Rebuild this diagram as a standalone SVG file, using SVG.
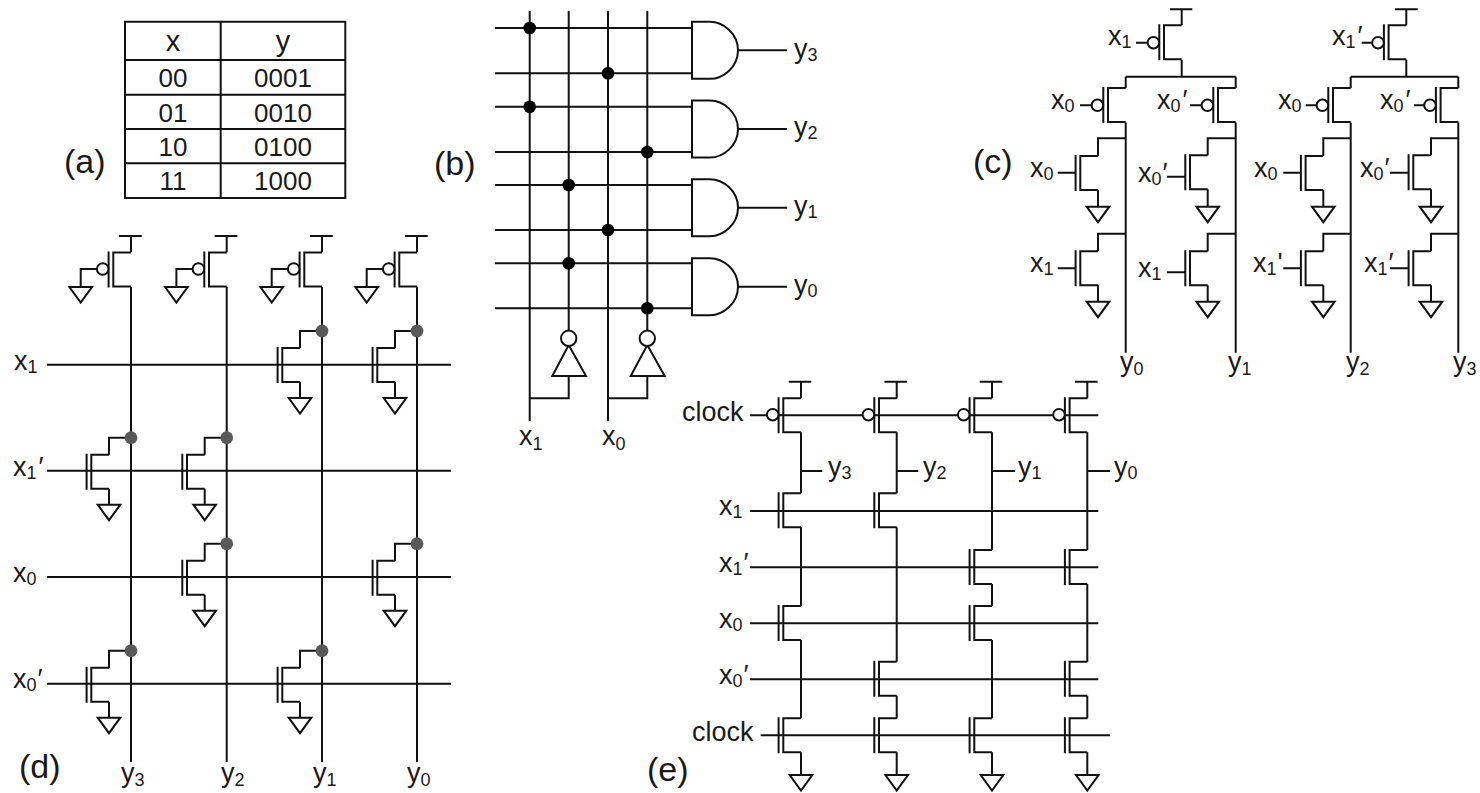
<svg xmlns="http://www.w3.org/2000/svg" width="1480" height="793" viewBox="0 0 1480 793">
<style>
text{font-family:"Liberation Sans",Arial,sans-serif;fill:#1a1a1a;font-size:27px}
.s{font-size:18px}
.p{font-size:34px}
.t{font-size:26px;text-anchor:middle}
.h{font-size:29px;text-anchor:middle}
.w,.f{fill:none;stroke:#111;stroke-width:2}
.b{fill:#fff;stroke:#111;stroke-width:2}
.dk{fill:#000}
.dg{fill:#595959}
</style>
<defs>
<g id="fet"><path class="f" d="M0,0H-17.7V34H0M-22.4,-1V35"/></g>
<circle id="bub" class="b" r="5.8"/>
<path id="gnd" class="b" d="M-11.3,0H11.3L0,15.5Z"/>
<path id="and" class="b" d="M0,-28.5H18C31,-28.5 46,-17 46,0C46,17 31,28.5 18,28.5H0Z"/>
</defs>

<g id="connectors">
<!-- panel a grid -->
<path class="w" d="M125,21.7H345.3V198H125ZM125,60H345.3M125,94.7H345.3M125,129H345.3M125,163.3H345.3M220.7,21.7V198"/>
<!-- panel b -->
<path class="w" d="M529.7,11V421M568.7,11V331M608,11V421M647.3,11V331M495,28H692M495,73.3H692M495,106.7H692M495,152H692M495,185H692M495,230H692M495,263.3H692M495,308.3H692M738,50.3H787M738,129H787M738,207.7H787M738,286.7H787M529.7,398.3H568.7V376M608,398.3H647.3V376"/>
<!-- panel c -->
<path class="w" d="M1170,9.3H1192.3M1181.7,9.3V25.3M1181.7,59.8V76.7M1125.7,76.7H1235.7M1125.7,76.7V88M1235.7,76.7V88M1125.7,122.5V352.7M1235.7,122.5V352.7M1136,42.7H1148M1080,105.3H1092M1190,105.3H1202M1125.7,138.3H1098V156M1098,190V206.7M1125.7,233.7H1098V251.3M1098,285.3V301.7M1235.7,138.3H1207.7V155.3M1207.7,189.3V206.7M1235.7,233.7H1207.7V251.3M1207.7,285.3V301.7M1057.7,172.7H1075M1167,176.7H1185M1057.7,268.3H1075M1167,272.3H1185"/>
<path class="w" d="M1395,9.3H1417.7M1406.3,9.3V25.3M1406.3,59.8V76.7M1350.7,76.7H1458.3M1350.7,76.7V88M1458.3,76.7V88M1350.7,122.5V352.7M1458.3,122.5V352.7M1361.7,42.7H1374M1305.7,105.3H1318M1414,105.3H1425M1350.7,138.3H1323.3V156M1323.3,190V206.7M1350.7,233.7H1323.3V251.3M1323.3,285.3V301.7M1458.3,138.3H1431V155.3M1431,189.3V206.7M1458.3,233.7H1431V251.3M1431,285.3V301.7M1283.3,172.7H1301M1390,172.7H1408.3M1283.3,268.3H1301M1390,268.3H1408.3"/>
<!-- panel d -->
<path class="w" d="M47,364.7H451M47,470.7H451M47,577H451M47,683.7H451M131,286.8V762M226.7,286.8V762M322,286.8V762M417,286.8V762"/>
<path class="w" d="M119,236H141.7M131,236V252.3M214.7,236H237.4M226.7,236V252.3M310,236H332.7M322,236V252.3M405,236H427.7M417,236V252.3"/>
<path class="w" d="M97,269H80.7V287M192.7,269H176.4V287M288,269H271.7V287M383,269H366.7V287"/>
<path class="w" d="M322,331H300V348M300,382V398M417,331H395V348M395,382V398M131,437.7H109V454.7M109,488.7V504.7M226.7,437.7H204.7V454.7M204.7,488.7V504.7M226.7,543.7H204.7V560.7M204.7,594.7V610.7M417,543.7H395V560.7M395,594.7V610.7M131,650.7H109V667.7M109,701.7V717.7M322,650.7H300V667.7M300,701.7V717.7"/>
<!-- panel e -->
<path class="w" d="M750,415.3H1098.3M750,511H1098.3M750,567.3H1098.3M750,623.3H1098.3M750,679.3H1098.3M760.7,735.3H1110"/>
<path class="w" d="M788.7,381.7H811.3M801,381.7V398.3M884.4,381.7H907M896.7,381.7V398.3M979.7,381.7H1002.3M992,381.7V398.3M1075,381.7H1097.6M1087.3,381.7V398.3"/>
<path class="w" d="M801,432.3V493.3M801,527.3V606M801,640V718.3M801,752.3V775"/>
<path class="w" d="M896.7,432.3V493.3M896.7,527.3V661.7M896.7,695.7V718.3M896.7,752.3V775"/>
<path class="w" d="M992,432.3V550M992,584V606M992,640V718.3M992,752.3V775"/>
<path class="w" d="M1087.3,432.3V550M1087.3,584V661.7M1087.3,695.7V718.3M1087.3,752.3V775"/>
<path class="w" d="M801,471H822.3M896.7,471H918.3M992,471H1015M1087.3,471H1110"/>
</g>

<g id="table-a">
<text class="h" x="173" y="50.7">x</text><text class="h" x="283" y="50.7">y</text>
<text class="t" x="173" y="87">00</text><text class="t" x="283" y="87">0001</text>
<text class="t" x="173" y="121.7">01</text><text class="t" x="283" y="121.7">0010</text>
<text class="t" x="173" y="156">10</text><text class="t" x="283" y="156">0100</text>
<text class="t" x="173" y="190">11</text><text class="t" x="283" y="190">1000</text>
</g>

<g id="panel-labels">
<text class="p" x="64" y="173">(a)</text>
<text class="p" x="434" y="175">(b)</text>
<text class="p" x="973" y="173">(c)</text>
<text class="p" x="19" y="778">(d)</text>
<text class="p" x="647" y="781">(e)</text>
</g>

<g id="b-gates">
<use id="and-y3" href="#and" x="692" y="50.3"/>
<use id="and-y2" href="#and" x="692" y="129"/>
<use id="and-y1" href="#and" x="692" y="207.7"/>
<use id="and-y0" href="#and" x="692" y="286.7"/>
</g>
<g id="b-inv1"><path class="b" d="M552.3,376H586L568.7,345Z"/><circle class="b" cx="568.7" cy="338.3" r="7.7"/></g>
<g id="b-inv0"><path class="b" d="M630.7,376H664.7L647.3,345Z"/><circle class="b" cx="647.3" cy="338.3" r="7.7"/></g>
<g id="b-dots" class="dk">
<circle cx="529.7" cy="28" r="6.3"/><circle cx="608" cy="73.3" r="6.3"/><circle cx="529.7" cy="106.7" r="6.3"/><circle cx="647.3" cy="152" r="6.3"/><circle cx="568.7" cy="185" r="6.3"/><circle cx="608" cy="230" r="6.3"/><circle cx="568.7" cy="263.3" r="6.3"/><circle cx="647.3" cy="308.3" r="6.3"/>
</g>
<g id="b-labels">
<text x="794" y="58">y<tspan class="s" dy="3">3</tspan></text>
<text x="794" y="136">y<tspan class="s" dy="3">2</tspan></text>
<text x="794" y="215">y<tspan class="s" dy="3">1</tspan></text>
<text x="794" y="294">y<tspan class="s" dy="3">0</tspan></text>
<text x="519" y="445">x<tspan class="s" dy="5">1</tspan></text>
<text x="602" y="445">x<tspan class="s" dy="5">0</tspan></text>
</g>

<g id="c-y0-y1">
<g id="c-p1"><use href="#fet" x="1181.7" y="25.3"/><use href="#bub" x="1153.4" y="42.7"/></g>
<g id="c-p2"><use href="#fet" x="1125.7" y="88"/><use href="#bub" x="1097.4" y="105.3"/></g>
<g id="c-p3"><use href="#fet" x="1235.7" y="88"/><use href="#bub" x="1207.4" y="105.3"/></g>
<g id="c-n1"><use href="#fet" x="1098" y="156"/><use href="#gnd" x="1098" y="206.7"/></g>
<g id="c-n2"><use href="#fet" x="1207.7" y="155.3"/><use href="#gnd" x="1207.7" y="206.7"/></g>
<g id="c-n3"><use href="#fet" x="1098" y="251.3"/><use href="#gnd" x="1098" y="301.7"/></g>
<g id="c-n4"><use href="#fet" x="1207.7" y="251.3"/><use href="#gnd" x="1207.7" y="301.7"/></g>
</g>
<g id="c-y2-y3">
<g id="c-p4"><use href="#fet" x="1406.3" y="25.3"/><use href="#bub" x="1378" y="42.7"/></g>
<g id="c-p5"><use href="#fet" x="1350.7" y="88"/><use href="#bub" x="1322.4" y="105.3"/></g>
<g id="c-p6"><use href="#fet" x="1458.3" y="88"/><use href="#bub" x="1430" y="105.3"/></g>
<g id="c-n5"><use href="#fet" x="1323.3" y="156"/><use href="#gnd" x="1323.3" y="206.7"/></g>
<g id="c-n6"><use href="#fet" x="1431" y="155.3"/><use href="#gnd" x="1431" y="206.7"/></g>
<g id="c-n7"><use href="#fet" x="1323.3" y="251.3"/><use href="#gnd" x="1323.3" y="301.7"/></g>
<g id="c-n8"><use href="#fet" x="1431" y="251.3"/><use href="#gnd" x="1431" y="301.7"/></g>
</g>
<g id="c-labels">
<text x="1108" y="45">x<tspan class="s" dy="3">1</tspan></text>
<text x="1051" y="109">x<tspan class="s" dy="3">0</tspan></text>
<text x="1157" y="109">x<tspan class="s" dy="3">0</tspan><tspan dy="-3" dx="2">′</tspan></text>
<text x="1030" y="177">x<tspan class="s" dy="3">0</tspan></text>
<text x="1138" y="182">x<tspan class="s" dy="3">0</tspan><tspan dy="-3" dx="1">′</tspan></text>
<text x="1030" y="272">x<tspan class="s" dy="3">1</tspan></text>
<text x="1138" y="277">x<tspan class="s" dy="3">1</tspan></text>
<text x="1120" y="371">y<tspan class="s" dy="4">0</tspan></text>
<text x="1228" y="371">y<tspan class="s" dy="4">1</tspan></text>
<text x="1332" y="45">x<tspan class="s" dy="3">1</tspan><tspan dy="-3" dx="2">′</tspan></text>
<text x="1278" y="109">x<tspan class="s" dy="3">0</tspan></text>
<text x="1380" y="109">x<tspan class="s" dy="3">0</tspan><tspan dy="-3" dx="2">′</tspan></text>
<text x="1254" y="177">x<tspan class="s" dy="3">0</tspan></text>
<text x="1360" y="177">x<tspan class="s" dy="3">0</tspan><tspan dy="-3" dx="1">′</tspan></text>
<text x="1253" y="272">x<tspan class="s" dy="3">1</tspan><tspan dy="-3" dx="1">'</tspan></text>
<text x="1364" y="272">x<tspan class="s" dy="3">1</tspan><tspan dy="-3" dx="1">′</tspan></text>
<text x="1346" y="371">y<tspan class="s" dy="4">2</tspan></text>
<text x="1453" y="371">y<tspan class="s" dy="4">3</tspan></text>
</g>

<g id="d-pull-ups">
<g id="d-p3"><use href="#fet" x="131" y="252.6"/><use href="#bub" x="102.7" y="269"/><use href="#gnd" x="80.7" y="287"/></g>
<g id="d-p2"><use href="#fet" x="226.7" y="252.6"/><use href="#bub" x="198.4" y="269"/><use href="#gnd" x="176.4" y="287"/></g>
<g id="d-p1"><use href="#fet" x="322" y="252.6"/><use href="#bub" x="293.7" y="269"/><use href="#gnd" x="271.7" y="287"/></g>
<g id="d-p0"><use href="#fet" x="417" y="252.6"/><use href="#bub" x="388.7" y="269"/><use href="#gnd" x="366.7" y="287"/></g>
</g>
<g id="d-pull-downs">
<g id="d-n1"><use href="#fet" x="300" y="348"/><use href="#gnd" x="300" y="398"/><circle class="dg" cx="322" cy="331" r="6.4"/></g>
<g id="d-n2"><use href="#fet" x="395" y="348"/><use href="#gnd" x="395" y="398"/><circle class="dg" cx="417" cy="331" r="6.4"/></g>
<g id="d-n3"><use href="#fet" x="109" y="454.7"/><use href="#gnd" x="109" y="504.7"/><circle class="dg" cx="131" cy="437.7" r="6.4"/></g>
<g id="d-n4"><use href="#fet" x="204.7" y="454.7"/><use href="#gnd" x="204.7" y="504.7"/><circle class="dg" cx="226.7" cy="437.7" r="6.4"/></g>
<g id="d-n5"><use href="#fet" x="204.7" y="560.7"/><use href="#gnd" x="204.7" y="610.7"/><circle class="dg" cx="226.7" cy="543.7" r="6.4"/></g>
<g id="d-n6"><use href="#fet" x="395" y="560.7"/><use href="#gnd" x="395" y="610.7"/><circle class="dg" cx="417" cy="543.7" r="6.4"/></g>
<g id="d-n7"><use href="#fet" x="109" y="667.7"/><use href="#gnd" x="109" y="717.7"/><circle class="dg" cx="131" cy="650.7" r="6.4"/></g>
<g id="d-n8"><use href="#fet" x="300" y="667.7"/><use href="#gnd" x="300" y="717.7"/><circle class="dg" cx="322" cy="650.7" r="6.4"/></g>
</g>
<g id="d-labels">
<text x="14" y="370">x<tspan class="s" dy="3">1</tspan></text>
<text x="13" y="476">x<tspan class="s" dy="3">1</tspan><tspan dy="-3" dx="2">′</tspan></text>
<text x="13" y="582">x<tspan class="s" dy="3">0</tspan></text>
<text x="13" y="688">x<tspan class="s" dy="3">0</tspan><tspan dy="-3" dx="1">′</tspan></text>
<text x="121" y="782">y<tspan class="s" dy="4">3</tspan></text>
<text x="221" y="782">y<tspan class="s" dy="4">2</tspan></text>
<text x="313" y="782">y<tspan class="s" dy="4">1</tspan></text>
<text x="407" y="782">y<tspan class="s" dy="4">0</tspan></text>
</g>

<g id="e-col3">
<use href="#fet" x="801" y="398.3"/><use href="#bub" x="772.7" y="414.7"/>
<use href="#fet" x="801" y="493.3"/><use href="#fet" x="801" y="606"/><use href="#fet" x="801" y="718.3"/><use href="#gnd" x="801" y="775"/>
</g>
<g id="e-col2">
<use href="#fet" x="896.7" y="398.3"/><use href="#bub" x="868.4" y="414.7"/>
<use href="#fet" x="896.7" y="493.3"/><use href="#fet" x="896.7" y="661.7"/><use href="#fet" x="896.7" y="718.3"/><use href="#gnd" x="896.7" y="775"/>
</g>
<g id="e-col1">
<use href="#fet" x="992" y="398.3"/><use href="#bub" x="963.7" y="414.7"/>
<use href="#fet" x="992" y="550"/><use href="#fet" x="992" y="606"/><use href="#fet" x="992" y="718.3"/><use href="#gnd" x="992" y="775"/>
</g>
<g id="e-col0">
<use href="#fet" x="1087.3" y="398.3"/><use href="#bub" x="1059" y="414.7"/>
<use href="#fet" x="1087.3" y="550"/><use href="#fet" x="1087.3" y="661.7"/><use href="#fet" x="1087.3" y="718.3"/><use href="#gnd" x="1087.3" y="775"/>
</g>
<g id="e-labels">
<text x="682" y="421">clock</text>
<text x="692" y="741">clock</text>
<text x="719" y="515">x<tspan class="s" dy="3">1</tspan></text>
<text x="719" y="572">x<tspan class="s" dy="3">1</tspan><tspan dy="-3" dx="1">′</tspan></text>
<text x="719" y="628">x<tspan class="s" dy="3">0</tspan></text>
<text x="719" y="684">x<tspan class="s" dy="3">0</tspan><tspan dy="-3" dx="1">′</tspan></text>
<text x="828" y="476">y<tspan class="s" dy="3">3</tspan></text>
<text x="923" y="476">y<tspan class="s" dy="3">2</tspan></text>
<text x="1018" y="476">y<tspan class="s" dy="3">1</tspan></text>
<text x="1114" y="476">y<tspan class="s" dy="3">0</tspan></text>
</g>
</svg>
